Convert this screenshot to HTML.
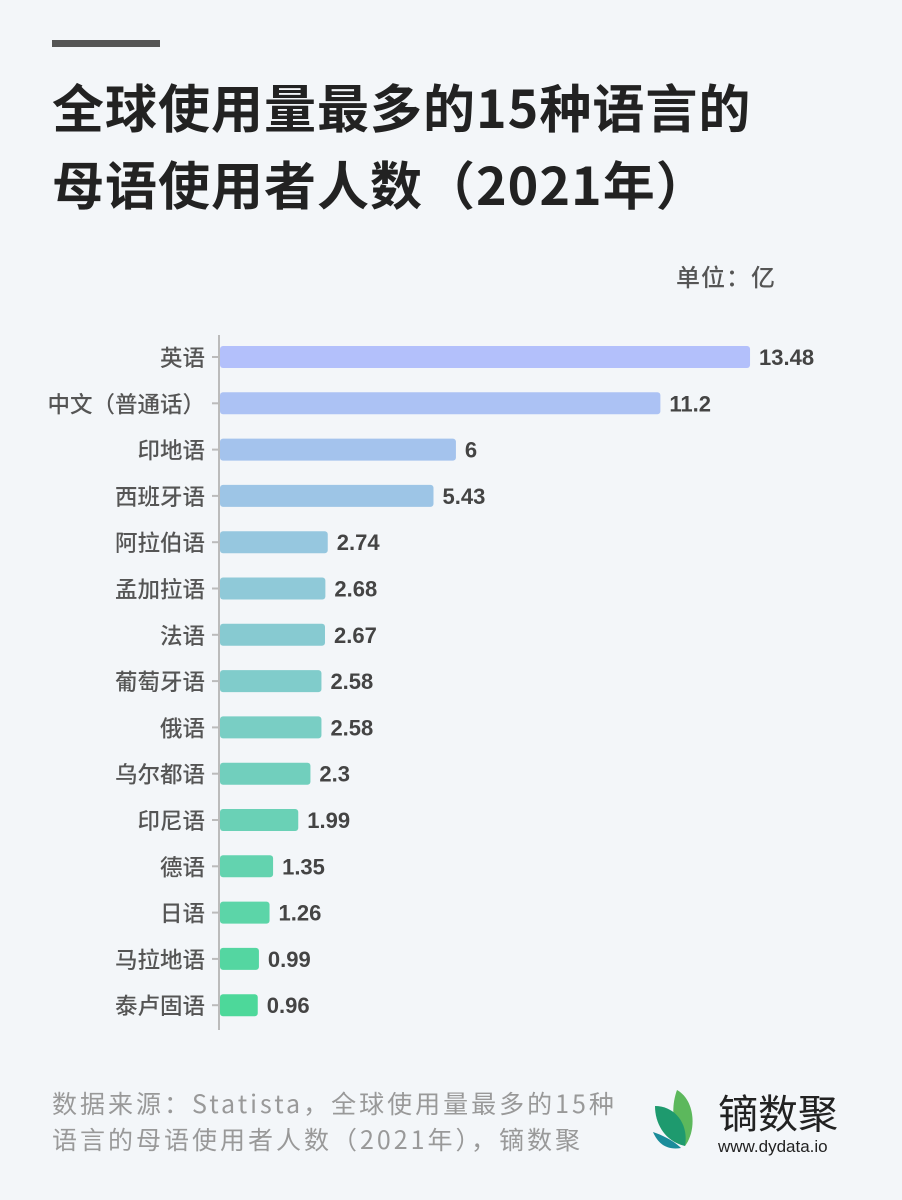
<!DOCTYPE html>
<html><head><meta charset="utf-8"><style>
body{margin:0;width:902px;height:1200px;background:#f3f6f9;position:relative;overflow:hidden;font-family:"Liberation Sans","Noto Sans CJK SC",sans-serif;}
.t{position:absolute;white-space:nowrap}
</style></head><body>
<div class="t" style="left:52px;top:40px;width:108px;height:7px;background:#555"></div>
<div class="t" style="left:52px;top:67px;font-size:52px;letter-spacing:1px;font-weight:bold;color:#222;line-height:77px;font-family:'Noto Sans CJK SC',sans-serif">全球使用量最多的15种语言的<br>母语使用者人数（2021年）</div>
<div class="t" style="left:676px;top:258px;font-size:24px;font-weight:500;letter-spacing:1px;color:#555;font-family:'Noto Sans CJK SC',sans-serif">单位：亿</div>
<svg class="t" style="left:0;top:0" width="902" height="1200">
<line x1="219" y1="335" x2="219" y2="1030" stroke="#bbb" stroke-width="2"/>
<g id="bars" font-family="Liberation Sans, Noto Sans CJK SC, sans-serif"></g>
<g transform="translate(655,1090)">
<path d="M22 0 C40 10 42 40 30 56 C20 44 14 22 22 0Z" fill="#5cb85c"/>
<path d="M0 16 C20 16 34 34 30 56 C12 52 0 36 0 16Z" fill="#1e9a6e"/>
<path d="M-2 42 C10 46 20 52 26 58 C14 60 4 56 -2 42Z" fill="#1a8c9a"/>
</g>
</svg>
<div class="t" style="left:718px;top:1088px;font-size:40px;color:#222;font-family:'Noto Sans CJK SC',sans-serif;line-height:46px">镝数聚</div>
<div class="t" style="left:718px;top:1137px;font-size:17px;color:#222">www.dydata.io</div>
<div class="t" style="left:52px;top:1085px;font-size:25px;letter-spacing:3px;color:#999;line-height:36px;font-family:'Noto Sans CJK SC',sans-serif">数据来源：Statista，全球使用量最多的15种<br>语言的母语使用者人数（2021年），镝数聚</div>
<script>
var d=[["英语",13.48],["中文（普通话）",11.2],["印地语",6],["西班牙语",5.43],["阿拉伯语",2.74],["孟加拉语",2.68],["法语",2.67],["葡萄牙语",2.58],["俄语",2.58],["乌尔都语",2.3],["印尼语",1.99],["德语",1.35],["日语",1.26],["马拉地语",0.99],["泰卢固语",0.96]];
var c1=[179,192,251],c2=[77,216,154],s='';
d.forEach(function(r,i){var y=357+i*46.3,t=i/14,col='rgb('+c1.map(function(v,k){return Math.round(v+(c2[k]-v)*t)}).join(',')+')';var w=r[1]*39.32;
s+='<line x1="212" x2="219" y1="'+y+'" y2="'+y+'" stroke="#bbb" stroke-width="2"/>';
s+='<rect x="220" y="'+(y-11)+'" width="'+w+'" height="22" rx="3" fill="'+col+'"/>';
s+='<text x="205" y="'+(y+9)+'" text-anchor="end" font-size="22.5" font-weight="500" fill="#555" font-family="Noto Sans CJK SC, sans-serif">'+r[0]+'</text>';
s+='<text x="'+(229+w)+'" y="'+(y+8)+'" font-size="22" font-weight="bold" fill="#444">'+r[1]+'</text>';});
document.getElementById('bars').innerHTML=s;
</script>
</body></html>
